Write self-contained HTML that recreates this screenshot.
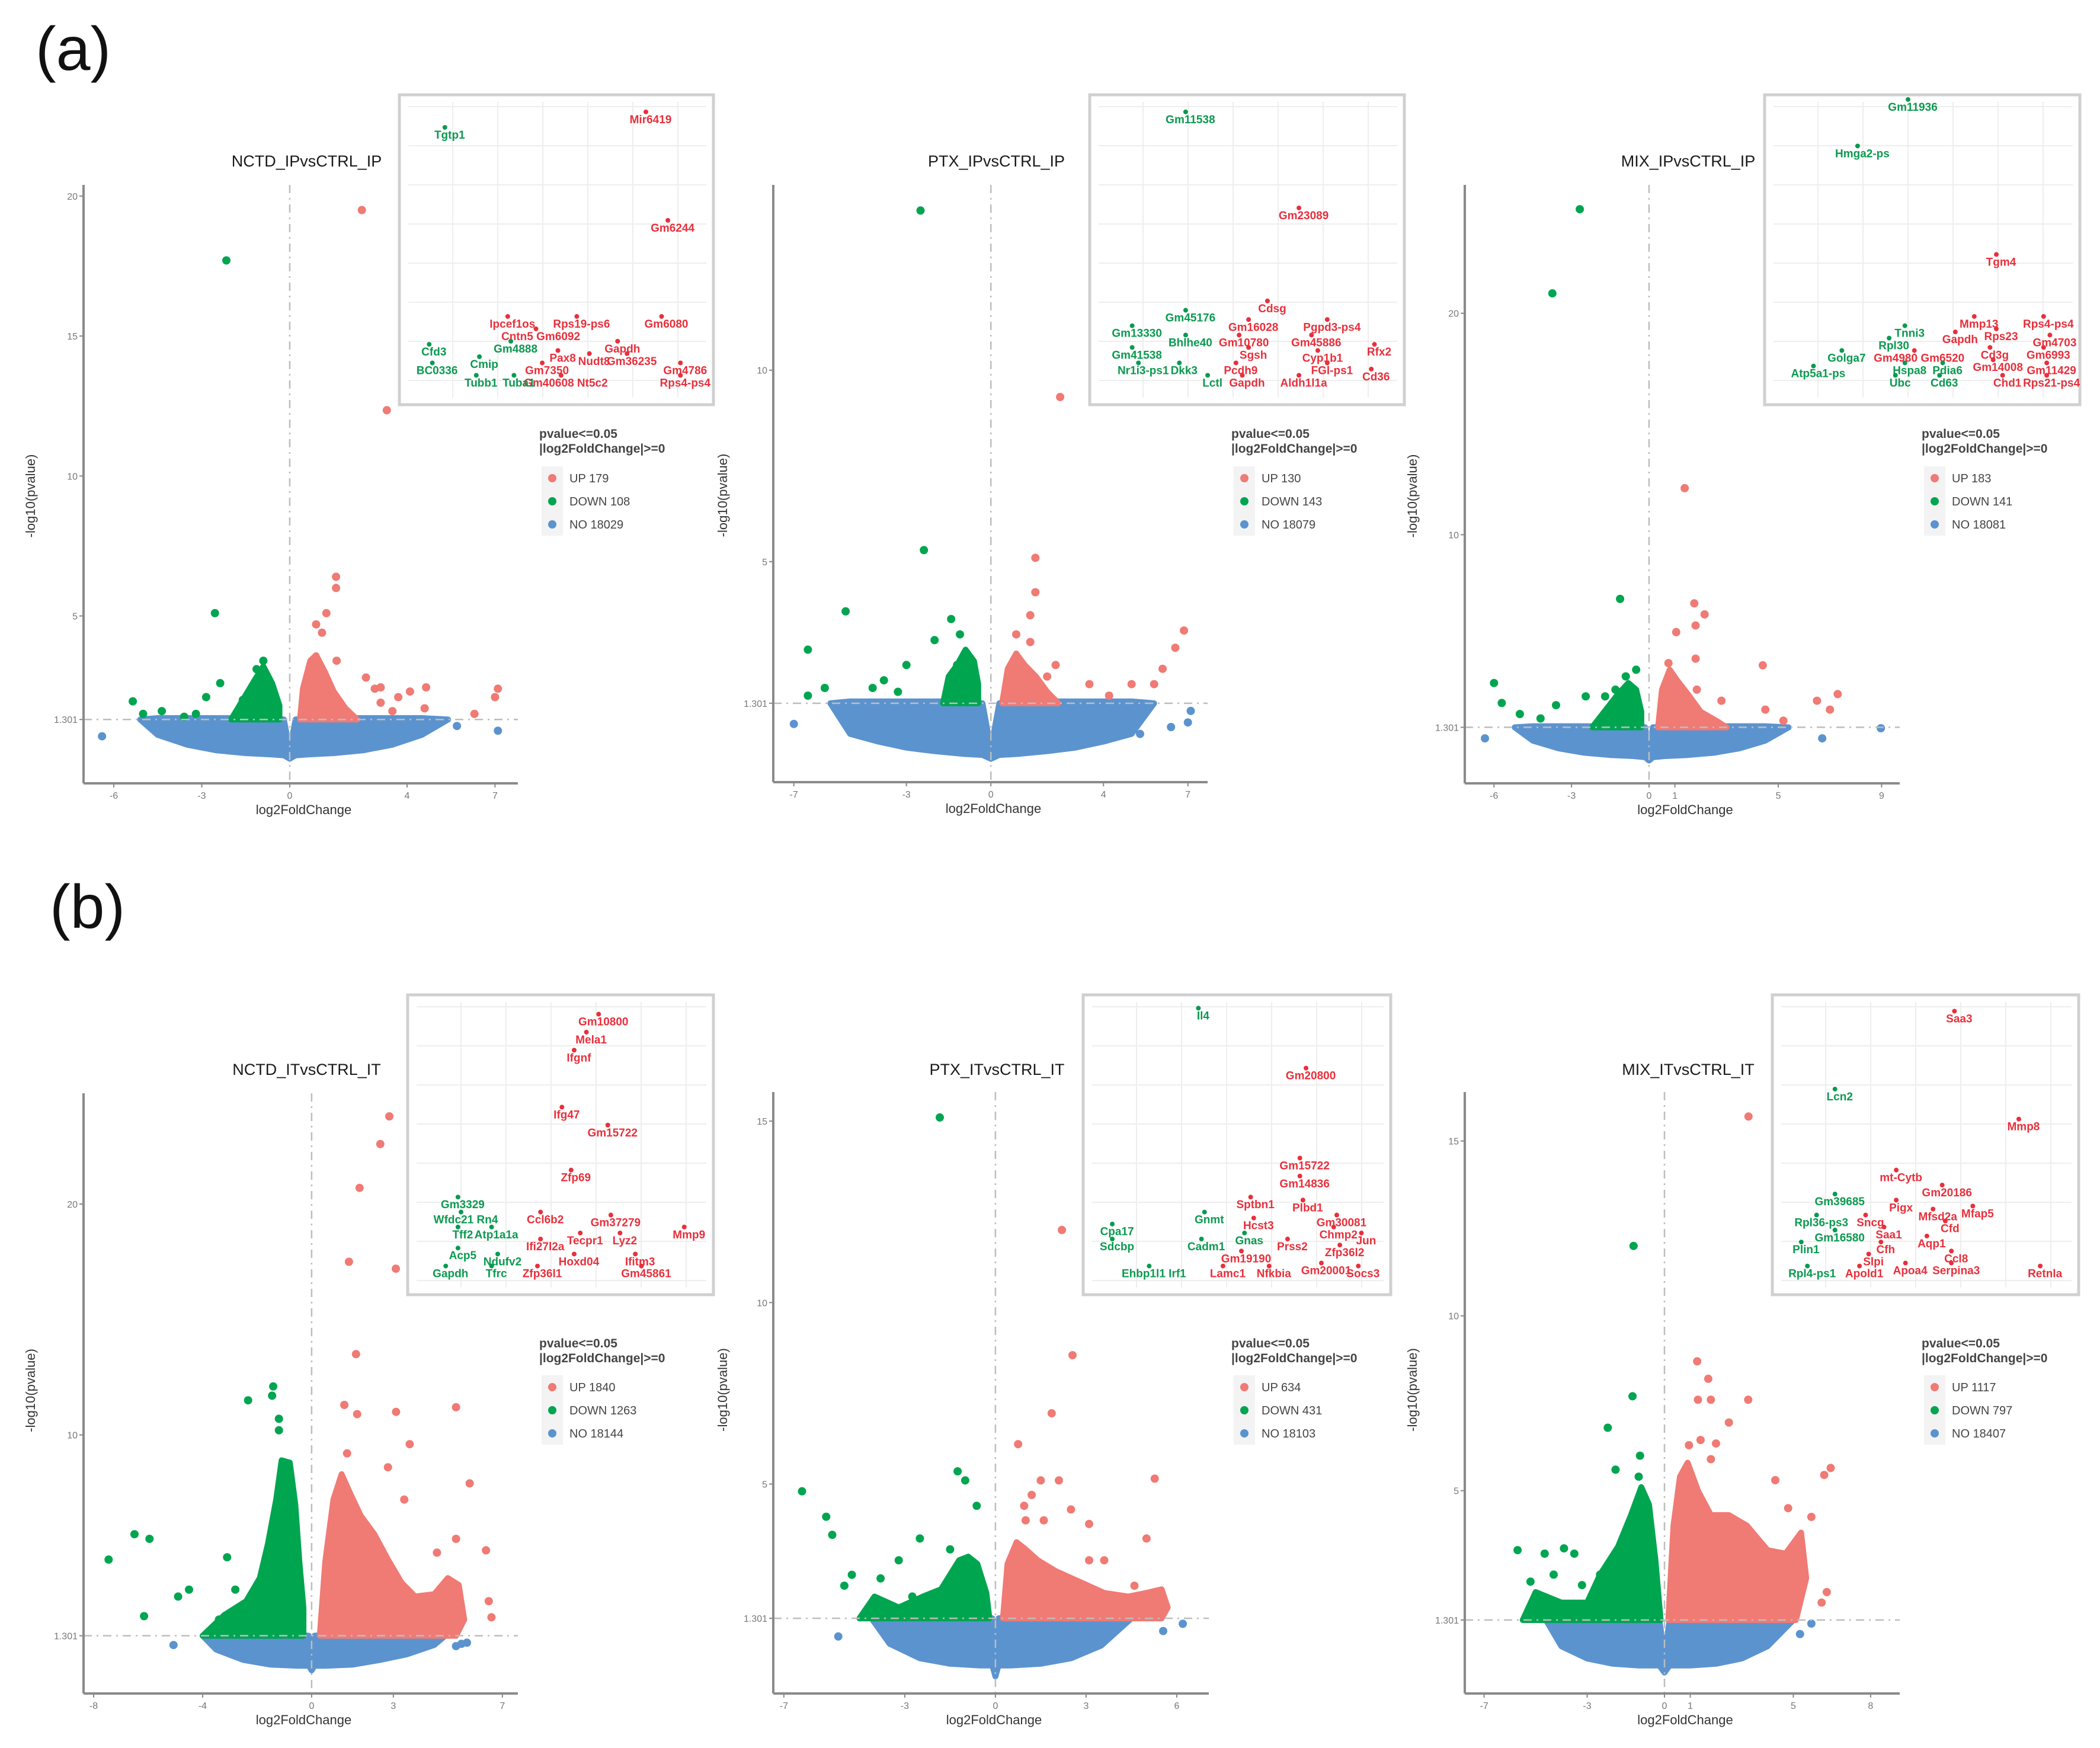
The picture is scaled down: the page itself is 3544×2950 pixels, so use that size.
<!DOCTYPE html>
<html><head><meta charset="utf-8">
<style>
html,body{margin:0;padding:0;background:#fff;}
svg{display:block;font-family:"Liberation Sans",Arial,sans-serif;}
</style></head>
<body>
<svg id="fig" xmlns="http://www.w3.org/2000/svg" width="3544" height="2950" viewBox="0 0 3544 2950">
<rect x="0" y="0" width="3544" height="2950" fill="#fff"/>
<text x="60" y="118" font-size="104" fill="#111">(a)</text>
<text x="84" y="1566" font-size="104" fill="#111">(b)</text>
</svg>
<script>
// ---------------- data ----------------
const a1_upX = [2.46,3.31,1.58,1.58,1.25,0.9,1.1,1.6,2.6,3.1,2.9,3.7,4.1,4.65,7.0,7.1,6.3,3.5,4.6,3.1];
const a1_upY = [19.5,12.35,6.4,6.0,5.1,4.7,4.4,3.4,2.8,2.45,2.4,2.1,2.3,2.45,2.1,2.4,1.5,1.6,1.7,1.9];
const a1_downX = [-2.16,-2.55,-0.9,-5.35,-4.36,-2.85,-2.37,-1.6,-1.13,-0.6,-3.6,-5.0,-3.2];
const a1_downY = [17.7,5.1,3.4,1.95,1.6,2.1,2.6,2.0,3.1,2.3,1.4,1.5,1.5];
const a1_nsX = [-6.4,5.7,7.1];
const a1_nsY = [0.7,1.07,0.9];
const a1_downAreaX = [-2.0,-1.6,-1.2,-0.9,-0.6,-0.35,-0.35];
const a1_downAreaY = [1.3,2.0,2.7,3.2,2.6,1.8,1.3];
const a1_upAreaX = [0.35,0.45,0.7,0.9,1.2,1.5,1.9,2.3];
const a1_upAreaY = [1.3,2.4,3.4,3.6,3.0,2.3,1.7,1.3];
const a1_cloudX = [-5.1,-4.5,-3.5,-2.5,-1.5,-0.6,-0.2,0,0.2,0.6,1.5,2.5,3.5,4.5,5.4];
const a1_cloudLow = [1.3,0.75,0.4,0.2,0.1,0.05,0.02,-0.1,0.02,0.05,0.1,0.2,0.4,0.75,1.3];
const a1_cloudHigh = [1.3,1.35,1.35,1.35,1.35,1.35,1.3,0.2,1.3,1.35,1.35,1.35,1.35,1.35,1.3];
const a1_xTicks = [-6,-3,0,4,7];
const a1_yTicks = [1.301,5,10,15,20];
const a1_counts = [179,108,18029];

const a2_upX = [2.46,1.58,1.58,1.4,0.9,1.4,6.86,6.55,6.1,2.3,2.0,3.5,5.0,5.8,4.2];
const a2_upY = [9.3,5.1,4.2,3.6,3.1,2.9,3.2,2.75,2.2,2.3,2.0,1.8,1.8,1.8,1.5];
const a2_downX = [-2.5,-2.38,-5.16,-6.5,-1.41,-1.1,-2.0,-3.0,-1.2,-4.2,-3.3,-5.9,-6.5,-3.8];
const a2_downY = [14.17,5.3,3.7,2.7,3.5,3.1,2.95,2.3,2.3,1.7,1.6,1.7,1.5,1.9];
const a2_nsX = [-7.0,7.1,6.4,7.0,5.3];
const a2_nsY = [0.76,1.1,0.68,0.8,0.5];
const a2_downAreaX = [-1.7,-1.5,-1.2,-0.9,-0.6,-0.45,-0.45];
const a2_downAreaY = [1.3,2.0,2.3,2.7,2.4,1.8,1.3];
const a2_upAreaX = [0.4,0.6,0.9,1.2,1.6,2.0,2.4];
const a2_upAreaY = [1.3,2.2,2.6,2.3,2.0,1.6,1.3];
const a2_cloudX = [-5.7,-5,-4,-3,-2,-1,-0.3,0,0.3,1,2,3,4,5,5.8];
const a2_cloudLow = [1.3,0.5,0.3,0.14,0.05,-0.02,-0.05,-0.15,-0.05,-0.02,0.05,0.14,0.3,0.5,1.3];
const a2_cloudHigh = [1.3,1.35,1.35,1.35,1.35,1.35,1.3,0.1,1.3,1.35,1.35,1.35,1.35,1.35,1.3];
const a2_xTicks = [-7,-3,0,4,7];
const a2_yTicks = [1.301,5,10];
const a2_counts = [130,143,18079];

const a3_upX = [1.38,1.75,2.15,1.8,1.05,0.75,1.8,4.4,1.85,2.8,6.5,7.3,7.0,4.5,5.2];
const a3_upY = [12.1,6.9,6.4,5.9,5.6,4.2,4.4,4.1,3.0,2.5,2.5,2.8,2.1,2.1,1.6];
const a3_downX = [-2.68,-3.74,-1.12,-6.0,-5.7,-5.0,-3.6,-2.45,-1.7,-1.3,-0.9,-0.5,-4.2];
const a3_downY = [24.7,20.9,7.1,3.3,2.4,1.9,2.3,2.7,2.7,3.0,3.6,3.9,1.7];
const a3_nsX = [-6.35,6.7,8.97];
const a3_nsY = [0.8,0.8,1.26];
const a3_downAreaX = [-2.2,-1.6,-1.2,-0.8,-0.5,-0.3,-0.3];
const a3_downAreaY = [1.3,2.2,2.8,3.3,3.0,2.0,1.3];
const a3_upAreaX = [0.35,0.5,0.8,1.1,1.5,2.0,2.6,3.0];
const a3_upAreaY = [1.3,3.0,3.9,3.4,2.8,2.0,1.6,1.3];
const a3_cloudX = [-5.2,-4.5,-3.5,-2.5,-1.5,-0.6,-0.15,0,0.15,0.6,1.5,2.5,3.5,4.5,5.4];
const a3_cloudLow = [1.3,0.7,0.35,0.15,0.05,0,-0.05,-0.2,-0.05,0,0.05,0.15,0.35,0.7,1.3];
const a3_cloudHigh = [1.3,1.35,1.35,1.35,1.35,1.35,1.3,0.1,1.3,1.35,1.35,1.35,1.35,1.35,1.3];
const a3_xTicks = [-6,-3,0,1,5,9];
const a3_yTicks = [1.301,10,20];
const a3_counts = [183,141,18081];

const b1_upX = [2.85,2.52,1.76,1.37,3.09,1.63,1.2,1.67,3.1,5.3,3.6,1.3,2.8,5.8,3.4,4.6,5.3,6.4,6.5,6.6];
const b1_upY = [23.8,22.6,20.7,17.5,17.2,13.5,11.3,10.9,11.0,11.2,9.6,9.2,8.6,7.9,7.2,4.9,5.5,5.0,2.8,2.1];
const b1_downX = [-1.41,-1.45,-2.33,-1.2,-1.2,-6.5,-5.95,-7.45,-3.1,-2.8,-4.5,-4.9,-6.15,-1.6,-3.4];
const b1_downY = [12.1,11.7,11.5,10.7,10.2,5.7,5.5,4.6,4.7,3.3,3.3,3.0,2.15,3.5,2.0];
const b1_nsX = [-5.07,5.3,5.5,5.7];
const b1_nsY = [0.9,0.85,0.95,1.0];
const b1_downAreaX = [-4.0,-3.2,-2.4,-1.9,-1.6,-1.3,-1.1,-0.8,-0.6,-0.45,-0.3,-0.3];
const b1_downAreaY = [1.3,2.2,2.8,3.8,5.3,7.2,8.9,8.8,7.0,4.5,2.5,1.3];
const b1_upAreaX = [0.3,0.5,0.8,1.1,1.4,1.8,2.3,2.8,3.3,3.8,4.5,5.0,5.4,5.6,5.3];
const b1_upAreaY = [1.3,4.5,7.2,8.3,7.5,6.5,5.7,4.6,3.6,3.0,3.1,3.8,3.5,2.0,1.3];
const b1_cloudX = [-4.0,-3.5,-2.5,-1.5,-0.5,-0.1,0,0.1,0.5,1.5,2.5,3.5,4.5,4.9];
const b1_cloudLow = [1.3,0.7,0.25,0.05,0,0,-0.2,0,0,0.05,0.25,0.5,0.9,1.3];
const b1_cloudHigh = [1.3,1.35,1.35,1.35,1.35,1.3,0.4,1.3,1.35,1.35,1.35,1.35,1.35,1.3];
const b1_xTicks = [-8,-4,0,3,7];
const b1_yTicks = [1.301,10,20];
const b1_counts = [1840,1263,18144];

const b2_upX = [2.2,2.55,1.86,0.75,1.5,2.1,5.27,1.2,0.95,2.5,1.0,1.6,3.1,5.0,3.1,3.6,4.6,5.3];
const b2_upY = [12.0,8.55,6.95,6.1,5.1,5.1,5.15,4.7,4.4,4.3,4.0,4.0,3.9,3.5,2.9,2.9,2.2,1.8];
const b2_downX = [-1.84,-6.4,-5.6,-5.4,-1.25,-1.0,-0.62,-2.5,-3.2,-1.5,-4.75,-3.8,-2.75,-5.0];
const b2_downY = [15.1,4.8,4.1,3.6,5.35,5.1,4.4,3.5,2.9,3.2,2.5,2.4,1.9,2.2];
const b2_nsX = [-5.2,5.55,6.2];
const b2_nsY = [0.8,0.95,1.15];
const b2_downAreaX = [-4.5,-4.0,-3.2,-2.4,-1.8,-1.5,-1.2,-0.9,-0.6,-0.3,-0.2];
const b2_downAreaY = [1.3,1.9,1.6,1.9,2.1,2.5,2.9,3.0,2.8,2.0,1.3];
const b2_upAreaX = [0.25,0.4,0.7,1.0,1.4,2.0,2.8,3.6,4.4,5.0,5.5,5.7,5.5];
const b2_upAreaY = [1.3,2.8,3.4,3.2,2.9,2.6,2.3,2.0,1.9,2.0,2.1,1.6,1.3];
const b2_cloudX = [-4.1,-3.5,-2.5,-1.5,-0.5,-0.1,0,0.1,0.5,1.5,2.5,3.5,4.5];
const b2_cloudLow = [1.3,0.6,0.2,0.05,0,0,-0.3,0,0,0.05,0.2,0.55,1.3];
const b2_cloudHigh = [1.3,1.35,1.35,1.35,1.35,1.3,0.3,1.3,1.35,1.35,1.35,1.35,1.3];
const b2_xTicks = [-7,-3,0,3,6];
const b2_yTicks = [1.301,5,10,15];
const b2_counts = [634,431,18103];

const b3_upX = [3.26,1.27,1.7,1.3,1.8,3.25,2.5,0.95,1.4,2.0,1.8,4.3,6.2,6.45,4.8,5.7,6.3,6.1];
const b3_upY = [15.7,8.7,8.2,7.6,7.6,7.6,6.95,6.3,6.45,6.35,5.9,5.3,5.45,5.65,4.5,4.25,2.1,1.8];
const b3_downX = [-1.2,-1.24,-2.2,-0.95,-1.9,-1.0,-5.7,-4.65,-3.9,-3.5,-5.2,-4.3,-3.2,-2.5];
const b3_downY = [12.0,7.7,6.8,6.0,5.6,5.4,3.3,3.2,3.35,3.2,2.4,2.6,2.3,2.6];
const b3_nsX = [5.26,5.7];
const b3_nsY = [0.9,1.2];
const b3_downAreaX = [-5.5,-5.0,-4.0,-3.0,-2.5,-1.8,-1.3,-0.9,-0.6,-0.35,-0.15];
const b3_downAreaY = [1.3,2.1,1.8,1.8,2.6,3.4,4.3,5.1,4.6,3.0,1.3];
const b3_upAreaX = [0.15,0.35,0.6,0.9,1.3,1.8,2.5,3.2,4.0,4.7,5.3,5.5,5.1];
const b3_upAreaY = [1.3,4.0,5.4,5.8,5.0,4.3,4.3,4.0,3.3,3.2,3.8,2.5,1.3];
const b3_cloudX = [-4.6,-4,-3,-2,-1,-0.2,0,0.2,1,2,3,4,5.0];
const b3_cloudLow = [1.3,0.55,0.2,0.05,0,0,-0.2,0,0,0.05,0.2,0.55,1.3];
const b3_cloudHigh = [1.3,1.35,1.35,1.35,1.35,1.3,0.3,1.3,1.35,1.35,1.35,1.35,1.3];
const b3_xTicks = [-7,-3,0,1,5,8];
const b3_yTicks = [1.301,5,10,15];
const b3_counts = [1117,797,18407];

// inset gene labels: [relX, relY, text, 'u'|'d']
const a1_genes = [[0.80,0.08,'Mir6419','u'],[0.87,0.43,'Gm6244','u'],[0.16,0.13,'Tgtp1','d'],[0.36,0.74,'Ipcef1os','u'],[0.58,0.74,'Rps19-ps6','u'],[0.85,0.74,'Gm6080','u'],[0.45,0.78,'Cntn5 Gm6092','u'],[0.71,0.82,'Gapdh','u'],[0.52,0.85,'Pax8','u'],[0.62,0.86,'Nudt8','u'],[0.47,0.89,'Gm7350','u'],[0.91,0.89,'Gm4786','u'],[0.53,0.93,'Gm40608 Nt5c2','u'],[0.91,0.93,'Rps4-ps4','u'],[0.74,0.86,'Gm36235','u'],[0.11,0.83,'Cfd3','d'],[0.37,0.82,'Gm4888','d'],[0.12,0.89,'BC0336','d'],[0.27,0.87,'Cmip','d'],[0.26,0.93,'Tubb1','d'],[0.38,0.93,'Tuba1','d']];
const a2_genes = [[0.32,0.08,'Gm11538','d'],[0.68,0.39,'Gm23089','u'],[0.58,0.69,'Cdsg','u'],[0.32,0.72,'Gm45176','d'],[0.52,0.75,'Gm16028','u'],[0.77,0.75,'Pgpd3-ps4','u'],[0.15,0.77,'Gm13330','d'],[0.49,0.80,'Gm10780','u'],[0.72,0.80,'Gm45886','u'],[0.32,0.80,'Bhlhe40','d'],[0.92,0.83,'Rfx2','u'],[0.15,0.84,'Gm41538','d'],[0.52,0.84,'Sgsh','u'],[0.74,0.85,'Cyp1b1','u'],[0.17,0.89,'Nr1i3-ps1','d'],[0.30,0.89,'Dkk3','d'],[0.48,0.89,'Pcdh9','u'],[0.77,0.89,'FGl-ps1','u'],[0.91,0.91,'Cd36','u'],[0.39,0.93,'Lctl','d'],[0.50,0.93,'Gapdh','u'],[0.68,0.93,'Aldh1l1a','u']];
const a3_genes = [[0.47,0.04,'Gm11936','d'],[0.31,0.19,'Hmga2-ps','d'],[0.75,0.54,'Tgm4','u'],[0.68,0.74,'Mmp13','u'],[0.90,0.74,'Rps4-ps4','u'],[0.46,0.77,'Tnni3','d'],[0.62,0.79,'Gapdh','u'],[0.75,0.78,'Rps23','u'],[0.92,0.80,'Gm4703','u'],[0.41,0.81,'Rpl30','d'],[0.49,0.85,'Gm4980 Gm6520','u'],[0.73,0.84,'Cd3g','u'],[0.90,0.84,'Gm6993','u'],[0.26,0.85,'Golga7','d'],[0.17,0.90,'Atp5a1-ps','d'],[0.46,0.89,'Hspa8','d'],[0.58,0.89,'Pdia6','d'],[0.74,0.88,'Gm14008','u'],[0.91,0.89,'Gm11429','u'],[0.43,0.93,'Ubc','d'],[0.57,0.93,'Cd63','d'],[0.77,0.93,'Chd1','u'],[0.91,0.93,'Rps21-ps4','u']];
const b1_genes = [[0.64,0.09,'Gm10800','u'],[0.60,0.15,'Mela1','u'],[0.56,0.21,'Ifgnf','u'],[0.52,0.40,'Ifg47','u'],[0.67,0.46,'Gm15722','u'],[0.55,0.61,'Zfp69','u'],[0.45,0.75,'Ccl6b2','u'],[0.68,0.76,'Gm37279','u'],[0.92,0.80,'Mmp9','u'],[0.45,0.84,'Ifi27l2a','u'],[0.58,0.82,'Tecpr1','u'],[0.71,0.82,'Lyz2','u'],[0.56,0.89,'Hoxd04','u'],[0.76,0.89,'Ifitm3','u'],[0.44,0.93,'Zfp36l1','u'],[0.78,0.93,'Gm45861','u'],[0.18,0.70,'Gm3329','d'],[0.19,0.75,'Wfdc21 Rn4','d'],[0.18,0.80,'Tff2','d'],[0.29,0.80,'Atp1a1a','d'],[0.18,0.87,'Acp5','d'],[0.31,0.89,'Ndufv2','d'],[0.14,0.93,'Gapdh','d'],[0.29,0.93,'Tfrc','d']];
const b2_genes = [[0.39,0.07,'Il4','d'],[0.74,0.27,'Gm20800','u'],[0.72,0.57,'Gm15722','u'],[0.72,0.63,'Gm14836','u'],[0.56,0.70,'Sptbn1','u'],[0.73,0.71,'Plbd1','u'],[0.41,0.75,'Gnmt','d'],[0.57,0.77,'Hcst3','u'],[0.84,0.76,'Gm30081','u'],[0.83,0.80,'Chmp2','u'],[0.92,0.82,'Jun','u'],[0.11,0.79,'Cpa17','d'],[0.40,0.84,'Cadm1','d'],[0.54,0.82,'Gnas','d'],[0.11,0.84,'Sdcbp','d'],[0.68,0.84,'Prss2','u'],[0.85,0.86,'Zfp36l2','u'],[0.53,0.88,'Gm19190','u'],[0.23,0.93,'Ehbp1l1 Irf1','d'],[0.47,0.93,'Lamc1','u'],[0.62,0.93,'Nfkbia','u'],[0.79,0.92,'Gm20001','u'],[0.91,0.93,'Socs3','u']];
const b3_genes = [[0.61,0.08,'Saa3','u'],[0.22,0.34,'Lcn2','d'],[0.82,0.44,'Mmp8','u'],[0.42,0.61,'mt-Cytb','u'],[0.57,0.66,'Gm20186','u'],[0.22,0.69,'Gm39685','d'],[0.42,0.71,'Pigx','u'],[0.54,0.74,'Mfsd2a','u'],[0.67,0.73,'Mfap5','u'],[0.16,0.76,'Rpl36-ps3','d'],[0.32,0.76,'Sncg','u'],[0.58,0.78,'Cfd','u'],[0.22,0.81,'Gm16580','d'],[0.38,0.80,'Saa1','u'],[0.52,0.83,'Aqp1','u'],[0.11,0.85,'Plin1','d'],[0.37,0.85,'Cfh','u'],[0.60,0.88,'Ccl8','u'],[0.33,0.89,'Slpi','u'],[0.45,0.92,'Apoa4','u'],[0.60,0.92,'Serpina3','u'],[0.13,0.93,'Rpl4-ps1','d'],[0.30,0.93,'Apold1','u'],[0.89,0.93,'Retnla','u']];

// ---------------- layout (pixels) ----------------
const panels = [
 {id:'a1',title:'NCTD_IPvsCTRL_IP',L:141,R:874,T:312,B:1322,xd:[-7.03,7.78],yd:[-0.98,20.4],inset:[674,160,1204,683],leg:[910,932,961,739,807,39],ytx:59,titleY:281,
  up:[a1_upX,a1_upY],down:[a1_downX,a1_downY],ns:[a1_nsX,a1_nsY],ua:[a1_upAreaX,a1_upAreaY],da:[a1_downAreaX,a1_downAreaY],cl:[a1_cloudX,a1_cloudLow,a1_cloudHigh],xt:a1_xTicks,yt:a1_yTicks,cnt:a1_counts,genes:a1_genes},
 {id:'a2',title:'PTX_IPvsCTRL_IP',L:1305,R:2038,T:312,B:1320,xd:[-7.73,7.7],yd:[-0.76,14.84],inset:[1839,160,2370,683],leg:[2078,2100,2129,739,807,39],ytx:1227,titleY:281,
  up:[a2_upX,a2_upY],down:[a2_downX,a2_downY],ns:[a2_nsX,a2_nsY],ua:[a2_upAreaX,a2_upAreaY],da:[a2_downAreaX,a2_downAreaY],cl:[a2_cloudX,a2_cloudLow,a2_cloudHigh],xt:a2_xTicks,yt:a2_yTicks,cnt:a2_counts,genes:a2_genes},
 {id:'a3',title:'MIX_IPvsCTRL_IP',L:2472,R:3206,T:312,B:1322,xd:[-7.13,9.7],yd:[-1.23,25.8],inset:[2978,160,3510,683],leg:[3243,3265,3294,739,807,39],ytx:2391,titleY:281,
  up:[a3_upX,a3_upY],down:[a3_downX,a3_downY],ns:[a3_nsX,a3_nsY],ua:[a3_upAreaX,a3_upAreaY],da:[a3_downAreaX,a3_downAreaY],cl:[a3_cloudX,a3_cloudLow,a3_cloudHigh],xt:a3_xTicks,yt:a3_yTicks,cnt:a3_counts,genes:a3_genes},
 {id:'b1',title:'NCTD_ITvsCTRL_IT',L:141,R:874,T:1845,B:2858,xd:[-8.37,7.57],yd:[-1.2,24.8],inset:[688,1679,1204,2185],leg:[910,932,961,2274,2341,39],ytx:59,titleY:1814,
  up:[b1_upX,b1_upY],down:[b1_downX,b1_downY],ns:[b1_nsX,b1_nsY],ua:[b1_upAreaX,b1_upAreaY],da:[b1_downAreaX,b1_downAreaY],cl:[b1_cloudX,b1_cloudLow,b1_cloudHigh],xt:b1_xTicks,yt:b1_yTicks,cnt:b1_counts,genes:b1_genes},
 {id:'b2',title:'PTX_ITvsCTRL_IT',L:1305,R:2040,T:1843,B:2858,xd:[-7.35,7.06],yd:[-0.77,15.8],inset:[1828,1679,2347,2185],leg:[2078,2100,2129,2274,2341,39],ytx:1227,titleY:1814,
  up:[b2_upX,b2_upY],down:[b2_downX,b2_downY],ns:[b2_nsX,b2_nsY],ua:[b2_upAreaX,b2_upAreaY],da:[b2_downAreaX,b2_downAreaY],cl:[b2_cloudX,b2_cloudLow,b2_cloudHigh],xt:b2_xTicks,yt:b2_yTicks,cnt:b2_counts,genes:b2_genes},
 {id:'b3',title:'MIX_ITvsCTRL_IT',L:2472,R:3206,T:1843,B:2858,xd:[-7.75,9.13],yd:[-0.8,16.4],inset:[2991,1679,3508,2185],leg:[3243,3265,3294,2274,2341,39],ytx:2391,titleY:1814,
  up:[b3_upX,b3_upY],down:[b3_downX,b3_downY],ns:[b3_nsX,b3_nsY],ua:[b3_upAreaX,b3_upAreaY],da:[b3_downAreaX,b3_downAreaY],cl:[b3_cloudX,b3_cloudLow,b3_cloudHigh],xt:b3_xTicks,yt:b3_yTicks,cnt:b3_counts,genes:b3_genes}
];

const RED='#f07a74', GREEN='#00a550', BLUE='#5b93cf', LRED='#e8303c', LGREEN='#0b9a50';
const NS='http://www.w3.org/2000/svg';
const svg=document.getElementById('fig');
function mk(tag,attrs,parent){const e=document.createElementNS(NS,tag);for(const k in attrs)e.setAttribute(k,attrs[k]);(parent||svg).appendChild(e);return e;}

panels.forEach(p=>{
  const g=mk('g',{});
  
  
  const sx=v=>p.L+(v-p.xd[0])/(p.xd[1]-p.xd[0])*(p.R-p.L);
  const sy=v=>p.B-(v-p.yd[0])/(p.yd[1]-p.yd[0])*(p.B-p.T);
  const t=mk('text',{x:(p.L+p.R)/2+10,y:p.titleY,'font-size':27,'text-anchor':'middle',fill:'#1a1a1a'},g);
  t.textContent=p.title;
  
  
  const cl=p.cl; let d='';
  cl[0].forEach((x,i)=>{d+=(i?'L':'M')+sx(x).toFixed(1)+' '+sy(cl[2][i]).toFixed(1);});
  for(let i=cl[0].length-1;i>=0;i--){d+='L'+sx(cl[0][i]).toFixed(1)+' '+sy(cl[1][i]).toFixed(1);}
  const cloud=mk('path',{d:d+'Z',fill:BLUE,stroke:BLUE,'stroke-width':10,'stroke-linejoin':'round'},g);
  
  
  [[p.da,GREEN,'down-dense-region'],[p.ua,RED,'up-dense-region']].forEach(([a,c,n])=>{
    let dd='';a[0].forEach((x,i)=>{dd+=(i?'L':'M')+sx(x).toFixed(1)+' '+sy(a[1][i]).toFixed(1);});
    const e=mk('path',{d:dd+'Z',fill:c,stroke:c,'stroke-width':10,'stroke-linejoin':'round'},g);
    
    
  });
  [[p.ns,BLUE,'ns-point'],[p.down,GREEN,'down-point'],[p.up,RED,'up-point']].forEach(([a,c,n])=>{
    a[0].forEach((x,i)=>{
      const e=mk('circle',{cx:sx(x).toFixed(1),cy:sy(a[1][i]).toFixed(1),r:7,fill:c},g);
      
      
    });
  });
  const vl=mk('line',{x1:sx(0),x2:sx(0),y1:p.T,y2:p.B,stroke:'#bdbdbd','stroke-width':2.5,'stroke-dasharray':'14 8 3 8'},g);
  
  
  const hl=mk('line',{x1:p.L,x2:p.R,y1:sy(1.301),y2:sy(1.301),stroke:'#bdbdbd','stroke-width':2.5,'stroke-dasharray':'14 8 3 8'},g);
  
  
  const ya=mk('line',{x1:p.L,x2:p.L,y1:p.T,y2:p.B,stroke:'#8a8a8a','stroke-width':4},g);
  
  
  const xa=mk('line',{x1:p.L,x2:p.R,y1:p.B,y2:p.B,stroke:'#8a8a8a','stroke-width':4},g);
  
  
  p.yt.forEach(v=>{
    mk('line',{x1:p.L-7,x2:p.L,y1:sy(v),y2:sy(v),stroke:'#888','stroke-width':2},g);
    const e=mk('text',{x:p.L-10,y:sy(v)+6,'font-size':16,'text-anchor':'end',fill:'#777'},g);
    e.textContent=(v===1.301?'1.301':String(v));
    
    
  });
  p.xt.forEach(v=>{
    mk('line',{x1:sx(v),x2:sx(v),y1:p.B,y2:p.B+7,stroke:'#888','stroke-width':2},g);
    const e=mk('text',{x:sx(v),y:p.B+26,'font-size':16,'text-anchor':'middle',fill:'#777'},g);
    e.textContent=String(v);
    
    
  });
  const xt=mk('text',{x:(p.L+p.R)/2+5,y:p.B+52,'font-size':22,'text-anchor':'middle',fill:'#333'},g);
  xt.textContent='log2FoldChange';
  
  
  const yc=(p.T+p.B)/2+ (p.id[0]==='a'?20:-5);
  const ytt=mk('text',{x:p.ytx,y:yc,'font-size':22,'text-anchor':'middle',fill:'#333',transform:'rotate(-90 '+p.ytx+' '+yc+')'},g);
  ytt.textContent='-log10(pvalue)';
  
  
  const [lx,mx,tx,ty,ey,gap]=p.leg;
  const lg=mk('g',{},g);
  
  
  mk('rect',{x:mx-18,y:ey-20,width:36,height:gap*3,fill:'#f3f3f3'},lg);
  const l1=mk('text',{x:lx,y:ty,'font-size':21,fill:'#444','font-weight':'bold'},lg); l1.textContent='pvalue<=0.05';
  const l2=mk('text',{x:lx,y:ty+25,'font-size':21,fill:'#444','font-weight':'bold'},lg); l2.textContent='|log2FoldChange|>=0';
  [['UP',RED],['DOWN',GREEN],['NO',BLUE]].forEach(([n,c],i)=>{
    const y=ey+i*gap;
    mk('circle',{cx:mx,cy:y,r:7,fill:c},lg);
    const e=mk('text',{x:tx,y:y+7,'font-size':20,fill:'#444'},lg);
    e.textContent=n+' '+p.cnt[i];
    
    
  });
  const [ix0,iy0,ix1,iy1]=p.inset;
  const ig=mk('g',{},g);
  
  
  mk('rect',{x:ix0,y:iy0,width:ix1-ix0,height:iy1-iy0,fill:'#fff',stroke:'#d0d0d0','stroke-width':5},ig);
  for(let x=ix0+90;x<ix1-10;x+=76) mk('line',{x1:x,x2:x,y1:iy0+12,y2:iy1-12,stroke:'#eeeeee','stroke-width':2},ig);
  for(let y=iy0+20;y<iy1-10;y+=66) mk('line',{x1:ix0+15,x2:ix1-12,y1:y,y2:y,stroke:'#eeeeee','stroke-width':2},ig);
  p.genes.forEach(gn=>{
    const gx=ix0+gn[0]*(ix1-ix0), gy=iy0+gn[1]*(iy1-iy0);
    const c=gn[3]==='u'?LRED:LGREEN;
    mk('circle',{cx:gx-8,cy:gy-13,r:4,fill:c},ig);
    const e=mk('text',{x:gx,y:gy+6,'font-size':19,'font-weight':'bold','text-anchor':'middle',fill:c},ig);
    e.textContent=gn[2];
    
    
  });
});
</script>
</body></html>
